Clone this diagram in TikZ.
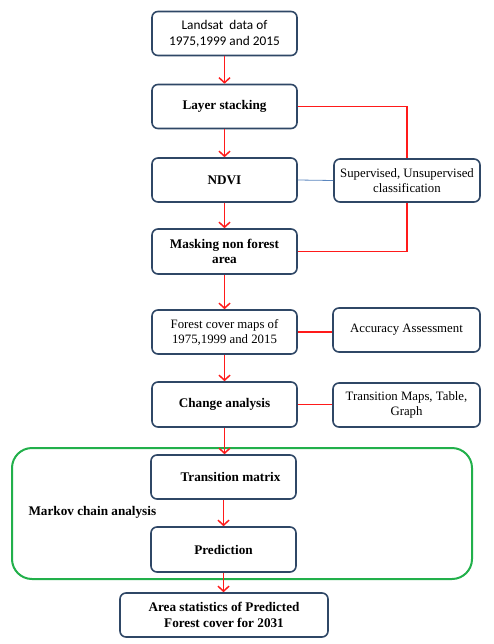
\documentclass[tikz,border=0pt]{standalone}
\usepackage{fontspec}
\setmainfont{Liberation Serif}
\newfontfamily\calfont{Carlito}
\usetikzlibrary{arrows.meta,calc}
\definecolor{boxc}{HTML}{2F4766}
\definecolor{redc}{HTML}{FF1A1A}
\definecolor{bluec}{HTML}{5B86BE}
\definecolor{greenc}{HTML}{22B04B}
\begin{document}
\begin{tikzpicture}[x=1pt,y=-1pt,
  box/.style={draw=boxc,line width=1.6pt,rounded corners=6pt,fill=white,
    minimum width=145pt,minimum height=44pt,align=center,font=\fontsize{12.8}{15}\selectfont,inner sep=2pt},
  bbox/.style={box,font=\fontsize{13.2}{15.5}\selectfont\bfseries},
  redarr/.style={draw=redc,line width=1.5pt,-{Straight Barb[length=5pt,width=11pt,line width=1.5pt]}},
  redline/.style={draw=redc,line width=1.5pt},
  blueline/.style={draw=bluec,line width=0.8pt}]
\useasboundingbox (0,0) rectangle (494,644);
% green frame
\draw[greenc,line width=2pt,rounded corners=20pt] (12,448) rectangle (472,579);
\node[anchor=west,font=\fontsize{13.2}{15.5}\selectfont\bfseries] (mk) at (25,512) {Markov chain analysis};
% main column
\node[box,font=\calfont\fontsize{13.3}{15.5}\selectfont] (b1) at (224.5,33.5) {Landsat\ \ data of\\1975,1999 and 2015};
\node[bbox] (b2) at (224.5,106.5) {Layer stacking};
\node[bbox] (b3) at (224.5,180) {NDVI};
\node[bbox,minimum height=45pt] (b4) at (224.5,251.5) {Masking non forest\\area};
\node[box] (b5) at (224.5,332) {Forest cover maps of\\1975,1999 and 2015};
\node[bbox,minimum height=45pt] (b6) at (224.5,404.5) {Change analysis};
\node[bbox] (b7) at (223.5,477) {\hspace*{14pt}Transition matrix};
\node[bbox,minimum height=45pt] (b8) at (223.5,549.5) {Prediction};
\node[bbox,minimum width=208pt] (b9) at (224,615) {Area statistics of Predicted\\Forest cover for 2031};
% side boxes
\node[box,minimum width=146pt,minimum height=43pt] (s1) at (407,180.5) {Supervised, Unsupervised\\classification};
\node[box,minimum width=147pt] (s2) at (406.5,330) {Accuracy Assessment};
\node[box,minimum width=147pt] (s3) at (406.5,405) {Transition Maps, Table,\\Graph};
% arrows
\draw[redarr] (b1.south) -- (b2.north);
\draw[redarr] (b2.south) -- (b3.north);
\draw[redarr] (b3.south) -- (b4.north);
\draw[redarr] (b4.south) -- (b5.north);
\draw[redarr] (b5.south) -- (b6.north);
\draw[redarr] (b6.south) -- (b6.south |- b7.north);
\draw[redarr] (b7.south) -- (b8.north);
\draw[redarr] (b8.south) -- (b8.south |- b9.north);
% side connectors
\draw[redline] (b2.east) -| (s1.north);
\draw[redline] (s1.south) |- (b4.east);
\draw[blueline] (b3.east) -- (s1.west);
\draw[redline] (b5.east) -- (b5.east -| s2.west);
\draw[redline] (b6.east) -- (b6.east -| s3.west);
\end{tikzpicture}
\end{document}
